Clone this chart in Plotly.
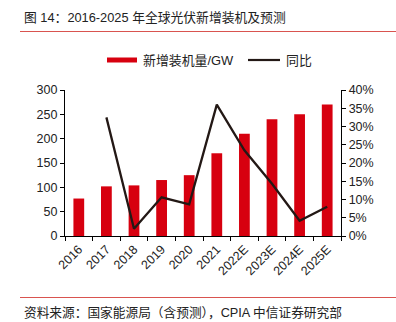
import plotly.graph_objects as go

# Global PV new installations (GW) and year-on-year growth
years = ["2016", "2017", "2018", "2019", "2020", "2021", "2022E", "2023E", "2024E", "2025E"]
installed_gw = [77, 102, 104, 115, 125, 170, 210, 240, 250, 270]
yoy_pct = [None, 32.5, 2.0, 10.6, 8.7, 36.0, 23.5, 14.3, 4.2, 8.0]

RED = "#d7000f"
DARK = "#231815"
CJK = "Liberation Sans, Noto Sans CJK SC, sans-serif"
NUM = "Liberation Sans, Arial, sans-serif"

W, H = 396, 322
L, R, T, B = 65, 55, 90, 86
pw, ph = W - L - R, H - T - B


def px(x):
    return (x - L) / pw


def py(y):
    return (H - B - y) / ph


fig = go.Figure()
fig.add_trace(go.Bar(x=years, y=installed_gw, marker=dict(color=RED, line=dict(width=0)),
                     width=0.39, name="新增装机量/GW", yaxis="y"))
fig.add_trace(go.Scatter(x=years, y=yoy_pct, mode="lines", line=dict(color=DARK, width=2.3),
                         name="同比", yaxis="y2", connectgaps=False))

axis_common = dict(showgrid=False, zeroline=False, showline=True, linecolor="black", linewidth=1.3,
                   ticks="outside", ticklen=4, tickcolor="black", tickwidth=1.3,
                   tickfont=dict(family=NUM, size=12.5, color="#222"))

fig.update_layout(
    width=W, height=H,
    margin=dict(l=L, r=R, t=T, b=B),
    paper_bgcolor="white", plot_bgcolor="white",
    showlegend=False,
    bargap=0.6,
    xaxis=dict(type="category", tickangle=-45, tickson="boundaries", **axis_common),
    yaxis=dict(range=[0, 300], dtick=50, **axis_common),
    yaxis2=dict(range=[0, 40], dtick=5, ticksuffix="%", overlaying="y", side="right", **axis_common),
    shapes=[
        dict(type="line", xref="paper", yref="paper", x0=px(20), x1=px(396), y0=py(31.5), y1=py(31.5),
             line=dict(color="#d9534f", width=1.2)),
        dict(type="line", xref="paper", yref="paper", x0=px(20), x1=px(396), y0=py(297.5), y1=py(297.5),
             line=dict(color="#d9534f", width=1.2)),
        dict(type="rect", xref="paper", yref="paper", x0=px(107), x1=px(137), y0=py(62.5), y1=py(57.5),
             fillcolor=RED, line=dict(width=0)),
        dict(type="line", xref="paper", yref="paper", x0=px(248), x1=px(280), y0=py(60), y1=py(60),
             line=dict(color=DARK, width=2.2)),
    ],
    annotations=[
        dict(text="图 14：2016-2025 年全球光伏新增装机及预测", xref="paper", yref="paper",
             x=px(22), y=py(17), xanchor="left", yanchor="middle", showarrow=False,
             font=dict(family=CJK, size=12.8, color="#222")),
        dict(text="新增装机量/GW", xref="paper", yref="paper", x=px(141), y=py(60),
             xanchor="left", yanchor="middle", showarrow=False, font=dict(family=CJK, size=12.9, color="#222")),
        dict(text="同比", xref="paper", yref="paper", x=px(284), y=py(60),
             xanchor="left", yanchor="middle", showarrow=False, font=dict(family=CJK, size=12.9, color="#222")),
        dict(text="资料来源：国家能源局（含预测），CPIA 中信证券研究部", xref="paper", yref="paper",
             x=px(22), y=py(312), xanchor="left", yanchor="middle", showarrow=False,
             font=dict(family=CJK, size=12.7, color="#222")),
    ],
)

fig.write_html("out.html")
